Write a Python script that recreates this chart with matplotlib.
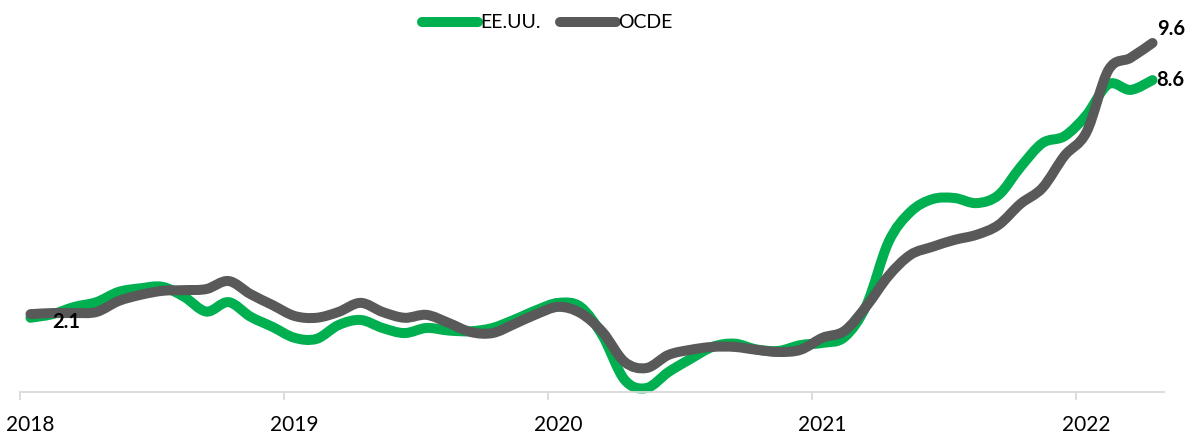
import matplotlib
matplotlib.use("Agg")
import matplotlib.pyplot as plt
from matplotlib.path import Path
from matplotlib.patches import PathPatch
from matplotlib.lines import Line2D
import numpy as np

plt.rcParams['font.family'] = ['Lato', 'DejaVu Sans']

# Monthly inflation (%)
years = ["2018", "2019", "2020", "2021", "2022"]
usa = [2.05, 2.15, 2.35, 2.48, 2.76, 2.86, 2.90, 2.62, 2.22, 2.48, 2.08, 1.80,
       1.50, 1.47, 1.85, 1.99, 1.77, 1.63, 1.77, 1.70, 1.68, 1.77, 2.00, 2.26,
       2.46, 2.35, 1.56, 0.35, 0.12, 0.56, 0.92, 1.25, 1.34, 1.18, 1.14, 1.30,
       1.36, 1.52, 2.40, 4.13, 4.96, 5.31, 5.34, 5.20, 5.42, 6.19, 6.85, 7.04,
       7.62, 8.47, 8.31, 8.58]
oecd = [2.15, 2.18, 2.18, 2.21, 2.51, 2.68, 2.79, 2.81, 2.84, 3.06, 2.70, 2.40,
        2.10, 2.05, 2.21, 2.46, 2.21, 2.05, 2.13, 1.91, 1.66, 1.63, 1.88, 2.15,
        2.35, 2.18, 1.66, 0.84, 0.67, 1.03, 1.17, 1.25, 1.25, 1.17, 1.11, 1.17,
        1.50, 1.69, 2.37, 3.20, 3.78, 4.00, 4.19, 4.33, 4.60, 5.18, 5.62, 6.50,
        7.15, 8.86, 9.19, 9.60]
labels = {"usa_start": "2.1", "usa_end": "8.6", "oecd_end": "9.6"}

GREEN = "#00B050"
GRAY = "#595959"
LW = 7.2

fig = plt.figure(figsize=(11.88, 4.34), dpi=100)
ax = fig.add_axes([19.5/1188, 1-392.4/434, 1144/1188, 364/434])

x = np.arange(len(usa)) + 0.5


def smooth_path(xs, ys):
    pts = np.column_stack([xs, ys])
    n = len(pts)
    verts = [pts[0]]
    codes = [Path.MOVETO]
    for i in range(n - 1):
        p0 = pts[i - 1] if i > 0 else pts[i]
        p1 = pts[i]
        p2 = pts[i + 1]
        p3 = pts[i + 2] if i + 2 < n else pts[i + 1]
        c1 = p1 + (p2 - p0) / 6.0
        c2 = p2 - (p3 - p1) / 6.0
        verts += [c1, c2, p2]
        codes += [Path.CURVE4] * 3
    return Path(verts, codes)


for ys, col in [(usa, GREEN), (oecd, GRAY)]:
    patch = PathPatch(smooth_path(x, np.array(ys)), facecolor='none',
                      edgecolor=col, lw=LW, capstyle='round',
                      joinstyle='round', clip_on=False)
    ax.add_patch(patch)

ax.set_xlim(0, len(usa))
ax.set_ylim(0, 10)

for s in ['top', 'right', 'left']:
    ax.spines[s].set_visible(False)
ax.spines['bottom'].set_color('#D9D9D9')
ax.spines['bottom'].set_linewidth(1.3)
ax.set_yticks([])
# tick marks at year boundaries, labels centred on the first month's category
ax.set_xticks(np.arange(len(years)) * 12)
ax.set_xticklabels([])
ax.tick_params(axis='x', which='major', length=6, width=1.3, color='#D9D9D9')
ax.set_xticks(np.arange(len(years)) * 12 + 0.5, minor=True)
ax.set_xticklabels(years, minor=True, fontsize=15, color='black')
ax.tick_params(axis='x', which='minor', length=0, pad=16)

# data labels
ax.annotate(labels["usa_start"], (x[0], usa[0]), xytext=(16, -3),
            textcoords='offset points', fontsize=14.5, fontweight='bold',
            ha='left', va='center', annotation_clip=False)
ax.annotate(labels["usa_end"], (x[-1], usa[-1]), xytext=(3, 0),
            textcoords='offset points', fontsize=14.5, fontweight='bold',
            ha='left', va='center', annotation_clip=False)
ax.annotate(labels["oecd_end"], (x[-1], oecd[-1]), xytext=(3, 10),
            textcoords='offset points', fontsize=14.5, fontweight='bold',
            ha='left', va='center', annotation_clip=False)

handles = [Line2D([], [], color=GREEN, lw=LW, solid_capstyle='round'),
           Line2D([], [], color=GRAY, lw=LW, solid_capstyle='round')]
fig.legend(handles, ["EE.UU.", "OCDE"], loc='center',
           bbox_to_anchor=(547/1188, 1-23/434), ncol=2, frameon=False,
           fontsize=14, handlelength=2.9, handletextpad=0.1,
           columnspacing=1.0)

fig.savefig("out.png", dpi=100)
